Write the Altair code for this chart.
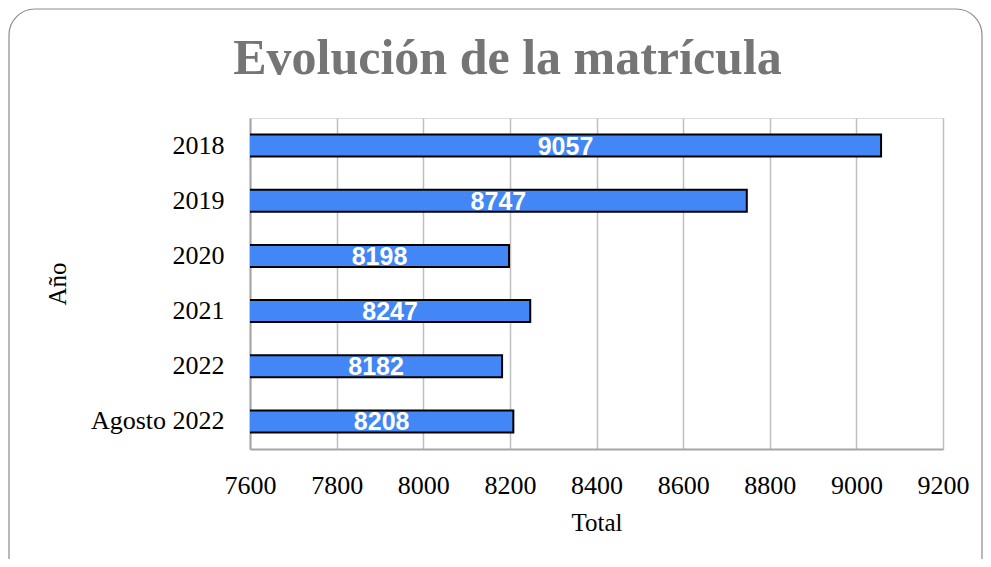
import altair as alt
import pandas as pd

years = ["2018", "2019", "2020", "2021", "2022", "Agosto 2022"]
totals = [9057, 8747, 8198, 8247, 8182, 8208]
x_ticks = [7600, 7800, 8000, 8200, 8400, 8600, 8800, 9000, 9200]

df = pd.DataFrame({"Año": years, "Total": totals})

SERIF = "Liberation Serif"

xscale = alt.Scale(domain=[7600, 9200], nice=False, zero=False)
yscale = alt.Scale(paddingInner=0.6, paddingOuter=0.3)

base = alt.Chart(df)

bars = base.mark_bar(color="#4287F5", stroke="#000000", strokeWidth=2, clip=True).encode(
    x=alt.X("Total:Q", scale=xscale,
            axis=alt.Axis(values=x_ticks, format="d", title="Total", grid=True, gridColor="#BFBFBF",
                          gridWidth=1.5, domainColor="#A6A6A6", domainWidth=2, ticks=False,
                          labelFlush=False, labelOverlap=False,
                          labelPadding=23, labelFont=SERIF, labelFontSize=26, labelColor="#000000",
                          titleFont=SERIF, titleFontSize=25, titleFontWeight="normal",
                          titleColor="#000000", titlePadding=12)),
    y=alt.Y("Año:N", sort=years, scale=yscale,
            axis=alt.Axis(title="Año", grid=False, domainColor="#A6A6A6", domainWidth=2,
                          ticks=False, labelPadding=26, labelFont=SERIF, labelFontSize=26,
                          labelColor="#000000", titleFont=SERIF, titleFontSize=25,
                          titleFontWeight="normal", titleColor="#000000", titlePadding=20)),
)

labels = base.transform_calculate(mid="(7600 + datum.Total) / 2").mark_text(
    color="white", font="Liberation Sans", fontWeight="bold", fontSize=25,
    baseline="middle", align="center", dy=1,
).encode(
    x=alt.X("mid:Q", scale=xscale),
    y=alt.Y("Año:N", sort=years, scale=yscale),
    text=alt.Text("Total:Q", format="d"),
)

frame = alt.Chart(pd.DataFrame({"f": [0]})).mark_rect(
    fill=None, stroke="#8C8C8C", strokeWidth=1.2, cornerRadius=26, clip=False
).encode(
    x=alt.value(-241), x2=alt.value(732), y=alt.value(-109), y2=alt.value(470)
)

chart = alt.layer(frame, bars, labels).properties(
    width=693, height=331,
    autosize=alt.AutoSizeParams(type="none"),
    padding={"left": 242, "top": 110, "right": 40, "bottom": 110},
    title=alt.TitleParams("Evolución de la matrícula", font=SERIF, fontSize=50,
                          fontWeight="bold", color="#757575", anchor="middle",
                          frame="group", dx=-89, offset=-116, baseline="alphabetic"),
).configure_view(stroke=None).configure(background="white")

chart.save("out.html", embed_options={"renderer": "svg", "actions": False})
